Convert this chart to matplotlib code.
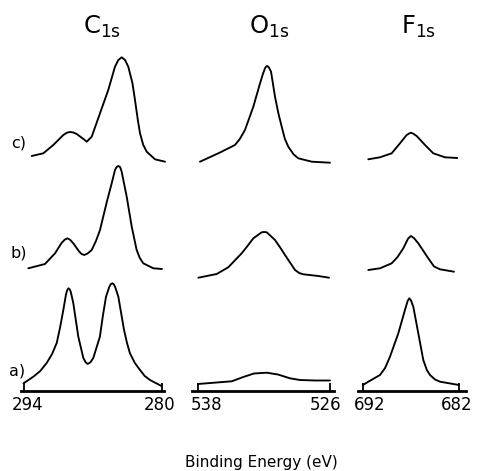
import matplotlib
matplotlib.use("Agg")
import matplotlib.pyplot as plt
import matplotlib.transforms as mtransforms

# ---------------- data (binding energy in eV, intensity in arbitrary units) -------------
row_labels = ["a)", "b)", "c)"]
row_offsets = [0, 110, 226]          # vertical offsets of the stacked spectra

panel_titles = [r"C$_{\mathregular{1s}}$", r"O$_{\mathregular{1s}}$", r"F$_{\mathregular{1s}}$"]
tick_values = [[294, 280], [538, 526], [692, 682]]
tick_labels = [["294", "280"], ["538", "526"], ["692", "682"]]
xlabel = "Binding Energy (eV)"

# C 1s
c1s_a_ev = [294.0, 293.0, 292.3, 291.65, 291.1, 290.63, 290.3, 289.96, 289.7, 289.58,
            289.45, 289.32, 289.2, 288.95, 288.44, 287.93, 287.7, 287.49, 287.2, 286.92,
            286.25, 285.95, 285.63, 285.3, 285.15, 284.99, 284.85, 284.7, 284.38, 283.8,
            283.5, 283.2, 282.7, 282.18, 281.7, 281.17, 280.0]
c1s_a_int = [7.7, 14.3, 20, 28, 37, 48, 63, 81, 96, 100.5,
             102.7, 101.8, 99, 88, 54.3, 33, 28.8, 27, 28.8, 33,
             54.3, 75, 94.3, 104, 106.8, 107.7, 106.8, 104, 94.3, 61,
             48, 37.7, 28, 21, 15, 11, 5]
c1s_b_ev = [293.51, 291.82, 290.80, 290.12, 289.8, 289.52, 289.25, 288.95, 288.34, 288.1,
            287.83, 287.5, 287.08, 286.65, 286.24, 285.50, 285.05, 284.72, 284.55, 284.38,
            284.2, 284.04, 283.53, 283.02, 282.52, 282.2, 281.85, 280.83, 279.95]
c1s_b_int = [12.7, 17, 27.7, 38.3, 41.5, 42.7, 41, 37.7, 29.3, 27,
             26, 27.5, 31, 40, 51, 81, 97.7, 111, 114, 115,
             114, 109.3, 84.3, 54.3, 31, 23, 17.7, 12.7, 12]
c1s_c_ev = [293.17, 291.99, 290.98, 289.96, 289.6, 289.28, 288.95, 288.60, 287.85, 287.59,
            287.08, 286.24, 285.40, 284.72, 284.38, 284.04, 283.7, 283.37, 282.95, 282.69,
            282.4, 282.18, 281.85, 281.50, 280.66, 279.64]
c1s_c_int = [9, 11.7, 20, 30, 32.3, 33, 32.5, 31, 25.5, 23.3,
             28.3, 51.7, 75, 98.3, 105, 107.7, 105, 98.3, 82, 65,
             45, 31.7, 20, 13.3, 5.7, 3.3]

# O 1s
o1s_a_ev = [538.0, 534.94, 533.88, 532.91, 531.75, 530.73, 529.64, 528.73, 527.36, 526.0]
o1s_a_int = [7, 9.7, 14, 17.5, 18.3, 16.5, 12.7, 11, 10.5, 10.5]
o1s_b_ev = [537.97, 536.30, 535.25, 534.03, 533.5, 532.97, 532.21, 532.0, 531.75, 531.0,
            530.5, 530.09, 529.18, 528.8, 528.43, 527.06, 526.09]
o1s_b_int = [3.3, 7, 13.7, 27.7, 35, 42.7, 48.7, 49, 48.7, 41,
             33, 26, 11, 8, 6.7, 5, 3.3]
o1s_c_ev = [537.82, 536.15, 534.64, 534.2, 533.73, 532.97, 532.36, 532.1, 531.91, 531.8,
            531.70, 531.55, 531.36, 531.0, 530.7, 530.39, 530.1, 529.79, 529.3, 528.88,
            527.66, 526.0]
o1s_c_int = [3.3, 11.7, 20, 26, 35, 58.3, 81.7, 91, 96.7, 98.5,
             99, 97.5, 93.3, 68.3, 52, 38.3, 26, 18.3, 10.5, 6.7,
             3.3, 2.3]

# F 1s
f1s_a_ev = [692.0, 691.45, 690.23, 689.7, 689.19, 688.32, 687.63, 687.35, 687.18, 687.0,
            686.76, 686.24, 685.72, 685.35, 685.02, 684.5, 683.98, 682.0]
f1s_a_int = [6, 9.3, 16, 23, 34.3, 57.7, 81, 90, 92.7, 90.5,
             84.3, 57.7, 31, 21, 16, 11.5, 9.3, 6]
f1s_b_ev = [691.45, 690.23, 689.01, 688.4, 687.80, 687.3, 687.0, 686.7, 686.24, 685.20,
            684.6, 683.98, 682.52]
f1s_b_int = [11, 12.7, 17.7, 24, 32.7, 42.5, 45, 43, 37.7, 22.7,
             14.5, 11.7, 9.3]
f1s_c_ev = [691.45, 690.23, 689.01, 688.15, 687.45, 687.2, 687.0, 686.75, 686.41, 685.54,
            684.68, 683.46, 682.18]
f1s_c_int = [5.7, 7.7, 11.7, 21.7, 30, 31.5, 32.3, 31.2, 29, 20,
             11.7, 7.7, 7]

spectra = [
    [(c1s_a_ev, c1s_a_int), (c1s_b_ev, c1s_b_int), (c1s_c_ev, c1s_c_int)],
    [(o1s_a_ev, o1s_a_int), (o1s_b_ev, o1s_b_int), (o1s_c_ev, o1s_c_int)],
    [(f1s_a_ev, f1s_a_int), (f1s_b_ev, f1s_b_int), (f1s_c_ev, f1s_c_int)],
]

# ---------------- layout (pixels of a 478x471 canvas) ----------------
W, H = 478, 471
AXIS_PIX = 391                      # pixel row of the energy axes
fig = plt.figure(figsize=(W / 100, H / 100), dpi=100)
fig.patch.set_facecolor("white")

panel_px = [(0, 178), (180, 346), (350, 478)]
tick_px = [(23.5, 161.5), (198, 330), (363, 459)]
spine_px = [(21, 164), (192, 334), (358, 466)]
label_dx = [(4, -1.5), (9, -4), (7, -2)]
title_x = [102, 269, 419]
title_base = 34

ylim = (AXIS_PIX - H, AXIS_PIX)     # data y == pixels above the axis line

for p in range(3):
    (e0, e1) = tick_values[p]
    (t0, t1) = tick_px[p]
    scale = (t1 - t0) / (e0 - e1)   # px per eV
    px2ev = lambda x: e0 - (x - t0) / scale
    l, r = panel_px[p]
    ax = fig.add_axes([l / W, 0, (r - l) / W, 1])
    ax.set_xlim(px2ev(l), px2ev(r))
    ax.set_ylim(*ylim)
    ax.patch.set_alpha(0)

    for k, (ev, inten) in enumerate(spectra[p]):
        ax.plot(ev, [v + row_offsets[k] for v in inten], color="black", lw=1.35,
                solid_joinstyle="round", solid_capstyle="round")

    for s in ["top", "left", "right"]:
        ax.spines[s].set_visible(False)
    ax.spines["bottom"].set_position(("data", 0))
    ax.spines["bottom"].set_bounds(px2ev(spine_px[p][0]), px2ev(spine_px[p][1]))
    ax.spines["bottom"].set_linewidth(2.0)
    ax.set_yticks([])
    ax.set_xticks(tick_values[p])
    ax.set_xticklabels([])
    ax.tick_params(axis="x", direction="in", length=6, width=1.3, color="black")

    for j, (val, lab) in enumerate(zip(tick_values[p], tick_labels[p])):
        tr = mtransforms.offset_copy(ax.transData, fig=fig, x=label_dx[p][j] * 0.72,
                                     y=-3.5, units="points")
        ax.text(val, 0, lab, transform=tr, ha="center", va="top", fontsize=12,
                color="black")

    fig.text(title_x[p] / W, 1 - title_base / H, panel_titles[p], ha="center",
             va="baseline", fontsize=17.5, color="black")

# row labels
row_label_pos = [(17, 371), (19, 253), (19, 143)]
for lab, (x, y) in zip(row_labels, row_label_pos):
    fig.text(x / W, 1 - y / H, lab, ha="center", va="center", fontsize=11.5, color="black")

fig.text(261 / W, 1 - 467 / H, xlabel, ha="center", va="baseline", fontsize=11,
         color="black")

fig.savefig("out.png", dpi=100, facecolor="white")
